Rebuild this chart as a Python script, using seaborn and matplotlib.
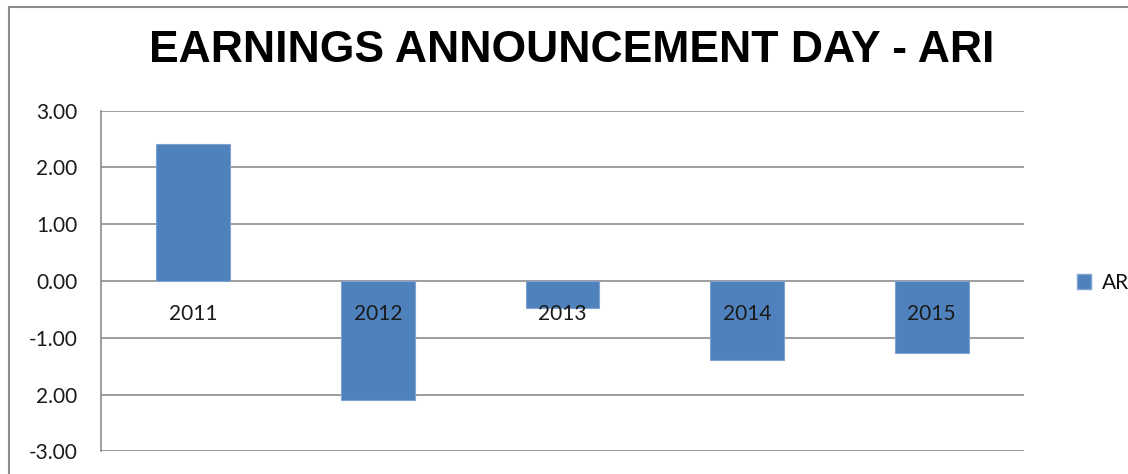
import matplotlib
matplotlib.use("Agg")
import matplotlib.pyplot as plt
import pandas as pd
import seaborn as sns
from matplotlib.lines import Line2D
from matplotlib.patches import Patch

years = ["2011", "2012", "2013", "2014", "2015"]
ar_values = [2.41, -2.09, -0.48, -1.39, -1.27]
y_ticks = [-3, -2, -1, 0, 1, 2, 3]
# the source chart really shows "2.00" at -2
y_tick_labels = ["-3.00", "2.00", "-1.00", "0.00", "1.00", "2.00", "3.00"]

df = pd.DataFrame({"year": years, "AR": ar_values})

sns.set_style("white")
plt.rcParams["font.family"] = ["Lato", "DejaVu Sans"]
plt.rcParams["text.color"] = "#111111"

fig = plt.figure(figsize=(11.28, 4.74), dpi=100)
ax = fig.add_axes([101 / 1128, 1 - 451.3 / 474, 923 / 1128, (451.3 - 110.7) / 474])

sns.barplot(data=df, x="year", y="AR", color="#4F81BD", width=0.4,
            edgecolor="#7FA3D0", linewidth=0.8, saturation=1, ax=ax, zorder=3)

ax.set_ylim(-3, 3)
ax.set_xlim(-0.5, len(years) - 0.5)
ax.set_yticks(y_ticks)
ax.set_yticklabels(y_tick_labels)
ax.yaxis.grid(True, color="#8c8c8c", linewidth=1.2, zorder=0)
ax.set_axisbelow(True)

for side in ["top", "right", "bottom"]:
    ax.spines[side].set_visible(False)
ax.spines["left"].set_color("#8c8c8c")
ax.spines["left"].set_linewidth(1.2)

ax.tick_params(axis="y", length=0, pad=17, labelsize=15, labelcolor="#1a1a1a")
ax.tick_params(axis="x", length=0, labelbottom=False)
ax.set_xlabel("")
ax.set_ylabel("")

# category labels sit next to the zero line, drawn over the bars
for i, yr in enumerate(years):
    ax.annotate(yr, xy=(i, 0), xytext=(0, -24), textcoords="offset points",
                ha="center", va="center", fontsize=15, color="#1a1a1a", zorder=6)

fig.text(572 / 1128, 1 - 50 / 474, "EARNINGS ANNOUNCEMENT DAY - ARI",
         ha="center", va="center", fontsize=32, fontweight="bold", color="black",
         family=["Liberation Sans", "DejaVu Sans"])

fig.legend(handles=[Patch(facecolor="#4F81BD", edgecolor="#7FA3D0", label="AR")],
           loc="center left", bbox_to_anchor=(1058 / 1128, 1 - 283 / 474),
           frameon=False, fontsize=15, handlelength=0.7, handleheight=0.7,
           handletextpad=0.5)

# outer chart border visible at top and left
fig.add_artist(Line2D([9 / 1128, 9 / 1128], [0, 1 - 7 / 474], color="#8c8c8c",
                      linewidth=1.5, transform=fig.transFigure))
fig.add_artist(Line2D([9 / 1128, 1], [1 - 7 / 474, 1 - 7 / 474], color="#8c8c8c",
                      linewidth=1.5, transform=fig.transFigure))

fig.savefig("out.png", dpi=100)
